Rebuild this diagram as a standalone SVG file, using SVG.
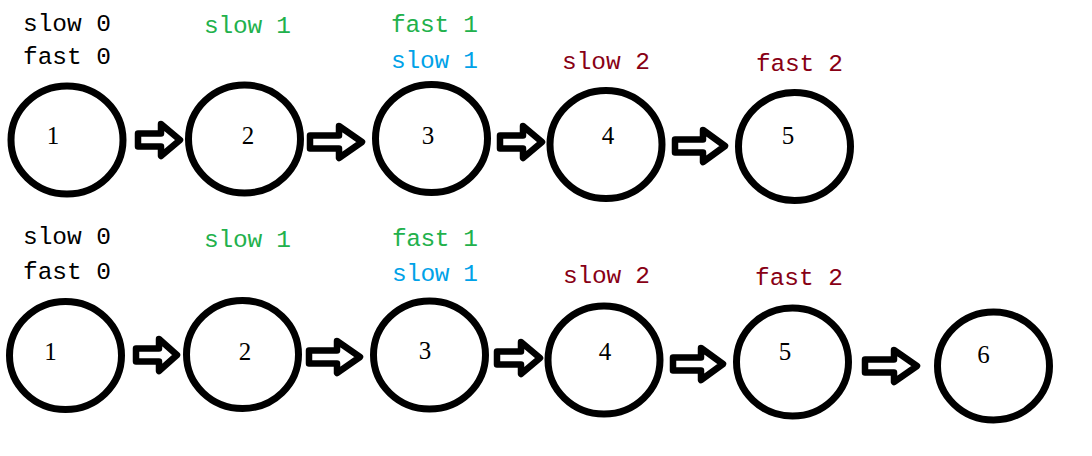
<svg xmlns="http://www.w3.org/2000/svg" width="1092" height="456" viewBox="0 0 1092 456">
<style>
.node{fill:none;stroke:#000;stroke-width:7}
.num{font-family:"Liberation Serif",serif;font-size:25px;fill:#000;text-anchor:middle}
.lbl{font-family:"Liberation Mono",monospace;font-size:24.5px}
.k{fill:#000}.g{fill:#22b14c}.b{fill:#00a2e8}.r{fill:#880015}
.arrow{fill:#fff;stroke:#000;stroke-width:6.5;stroke-linejoin:round}
</style>
<rect width="1092" height="456" fill="#fff"/>
<g id="labels">
<text class="lbl k" x="23" y="31" textLength="88">slow 0</text>
<text class="lbl k" x="23" y="64" textLength="88">fast 0</text>
<text class="lbl g" x="204" y="33" textLength="87">slow 1</text>
<text class="lbl g" x="391" y="32" textLength="87">fast 1</text>
<text class="lbl b" x="391" y="68" textLength="87">slow 1</text>
<text class="lbl r" x="562" y="69" textLength="88">slow 2</text>
<text class="lbl r" x="756" y="71" textLength="87">fast 2</text>
<text class="lbl k" x="23" y="244" textLength="88">slow 0</text>
<text class="lbl k" x="23" y="279" textLength="88">fast 0</text>
<text class="lbl g" x="204" y="247" textLength="87">slow 1</text>
<text class="lbl g" x="392" y="246" textLength="86">fast 1</text>
<text class="lbl b" x="392" y="281" textLength="86">slow 1</text>
<text class="lbl r" x="563" y="283" textLength="87">slow 2</text>
<text class="lbl r" x="755" y="285" textLength="88">fast 2</text>
</g>
<g id="connectors">
<path class="arrow" d="M138,133.5 H161 V124 L180,140 L161,156 V146.5 H138 Z"/>
<path class="arrow" d="M310,135.5 H339 V126 L362,142 L339,158 V148.5 H310 Z"/>
<path class="arrow" d="M500,135.5 H523 V126 L542,142 L523,158 V148.5 H500 Z"/>
<path class="arrow" d="M675,139.5 H703 V130 L725,146 L703,162 V152.5 H675 Z"/>
<path class="arrow" d="M136,348.5 H159 V339 L177,355 L159,371 V361.5 H136 Z"/>
<path class="arrow" d="M309,350.5 H337 V341 L360,357 L337,373 V363.5 H309 Z"/>
<path class="arrow" d="M497,351.5 H521 V342 L540,358 L521,374 V364.5 H497 Z"/>
<path class="arrow" d="M673,357.5 H701 V348 L723,364 L701,380 V370.5 H673 Z"/>
<path class="arrow" d="M865,359.5 H894 V350 L917,366 L894,382 V372.5 H865 Z"/>
</g>
<g id="n1a"><ellipse class="node" cx="67" cy="140" rx="56" ry="54"/><text class="num" x="53" y="144">1</text></g>
<g id="n2a"><ellipse class="node" cx="244.5" cy="139" rx="56" ry="54"/><text class="num" x="248" y="144">2</text></g>
<g id="n3a"><ellipse class="node" cx="431.5" cy="138.5" rx="56" ry="54"/><text class="num" x="428" y="144">3</text></g>
<g id="n4a"><ellipse class="node" cx="606" cy="144.5" rx="56" ry="54"/><text class="num" x="608" y="144">4</text></g>
<g id="n5a"><ellipse class="node" cx="794.5" cy="146.5" rx="56" ry="54"/><text class="num" x="788" y="144">5</text></g>
<g id="n1b"><ellipse class="node" cx="65.5" cy="355.5" rx="56" ry="54"/><text class="num" x="50.5" y="360">1</text></g>
<g id="n2b"><ellipse class="node" cx="242.5" cy="354.5" rx="56" ry="54"/><text class="num" x="245" y="360">2</text></g>
<g id="n3b"><ellipse class="node" cx="429.5" cy="355" rx="56" ry="54"/><text class="num" x="425" y="359">3</text></g>
<g id="n4b"><ellipse class="node" cx="604" cy="360" rx="56" ry="54"/><text class="num" x="605" y="360">4</text></g>
<g id="n5b"><ellipse class="node" cx="792.5" cy="362" rx="56" ry="54"/><text class="num" x="785" y="360">5</text></g>
<g id="n6b"><ellipse class="node" cx="993.5" cy="366" rx="56" ry="54"/><text class="num" x="983.5" y="363">6</text></g>
</svg>
